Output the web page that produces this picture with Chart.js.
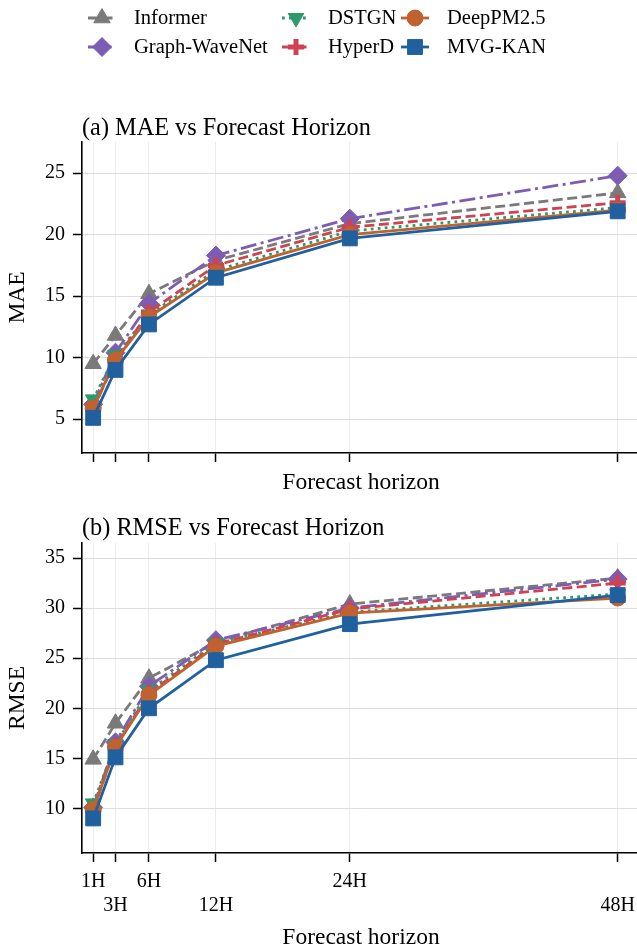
<!DOCTYPE html>
<html>
<head>
<meta charset="utf-8">
<script src="https://cdn.jsdelivr.net/npm/chart.js@4.4.1/dist/chart.umd.min.js"></script>
<style>
html, body { margin: 0; background: #fff; overflow: hidden; }
#wrap { position: relative; width: 637px; height: 945px; overflow: hidden; }
canvas { position: absolute; left: 0; }
</style>
</head>
<body>
<div id="wrap">
  <canvas id="maeChart" width="640" height="495" style="top:0px"></canvas>
  <canvas id="rmseChart" width="640" height="455" style="top:495px"></canvas>
</div>
<script>
// forecast horizons (hours) and tick labels
let horizons = [1, 3, 6, 12, 24, 48];
let xTickLabels = ['1H', '3H', '6H', '12H', '24H', '48H'];
let models = ['Informer', 'Graph-WaveNet', 'DSTGN', 'HyperD', 'DeepPM2.5', 'MVG-KAN'];

// MAE per model, same order as models
let maeInformer = [9.5, 11.8, 15.2, 17.9, 20.9, 23.4];
let maeGraphWaveNet = [6.2, 10.4, 14.4, 18.3, 21.3, 24.8];
let maeDSTGN = [6.6, 10.2, 13.5, 17.1, 20.3, 22.2];
let maeHyperD = [5.8, 9.8, 13.7, 17.5, 20.6, 22.6];
let maeDeepPM = [5.9, 9.8, 13.3, 16.9, 20.0, 22.0];
let maeMVGKAN = [5.1, 9.0, 12.7, 16.5, 19.7, 21.9];

// RMSE per model
let rmseInformer = [14.9, 18.5, 23.0, 26.6, 30.4, 33.0];
let rmseGraphWaveNet = [10.1, 16.6, 22.2, 26.8, 30.0, 32.9];
let rmseDSTGN = [10.5, 16.4, 21.8, 26.5, 29.6, 31.4];
let rmseHyperD = [9.8, 16.2, 21.5, 26.4, 29.9, 32.5];
let rmseDeepPM = [9.9, 16.1, 21.3, 26.2, 29.5, 31.0];
let rmseMVGKAN = [9.0, 15.1, 20.0, 24.8, 28.4, 31.3];

let maeTicks = [5, 10, 15, 20, 25];
let rmseTicks = [10, 15, 20, 25, 30, 35];

const FONT = '"Liberation Serif", "Times New Roman", serif';

// line / marker look of each model
let styles = [
  {color: '#7a7a7a', dash: [10, 4.5], point: 'triangle', radius: 9.5, rotation: 0, pbw: 1},
  {color: '#7d5db4', dash: [16, 4.5, 3, 4.5], point: 'rectRot', radius: 9.5, rotation: 0, pbw: 1},
  {color: '#2e9a6c', dash: [2.8, 4.2], point: 'triangle', radius: 9, rotation: 180, pbw: 1},
  {color: '#cf4251', dash: [10, 4.5], point: 'cross', radius: 8, rotation: 0, pbw: 5},
  {color: '#bf6230', dash: [], point: 'circle', radius: 8, rotation: 0, pbw: 1},
  {color: '#21609f', dash: [], point: 'rect', radius: 10.5, rotation: 0, pbw: 1}
];

function makeDatasets(values) {
  let sets = [];
  for (let i = 0; i < models.length; i++) {
    let st = styles[i];
    sets.push({
      label: models[i],
      data: horizons.map((h, j) => ({x: h, y: values[i][j]})),
      borderColor: st.color,
      backgroundColor: st.color,
      borderWidth: 2.8,
      borderDash: st.dash,
      borderCapStyle: 'butt',
      tension: 0,
      fill: false,
      pointStyle: st.point,
      pointRadius: st.radius,
      pointRotation: st.rotation,
      pointBorderWidth: st.pbw,
      pointBorderColor: st.color,
      pointBackgroundColor: st.color,
      order: models.length - i   // last model drawn on top
    });
  }
  return sets;
}

function makeScales(yTitle, yMin, yMax, yTicks, showXLabels) {
  return {
    x: {
      type: 'linear',
      min: 0,
      max: 50,
      afterBuildTicks: axis => { axis.ticks = horizons.map(v => ({value: v})); },
      afterFit: axis => { axis.paddingLeft = 0; axis.paddingRight = 0; },
      grid: {color: '#ececec', lineWidth: 1, tickColor: '#000', tickLength: 9, tickWidth: 1.5},
      border: {display: true, color: '#000', width: 1.6},
      ticks: {
        display: showXLabels,
        autoSkip: false,
        maxRotation: 0,
        padding: 8,
        color: '#000',
        font: {family: FONT, size: 20, lineHeight: 1.2},
        callback: v => {
          let i = horizons.indexOf(v);
          if (i < 0) return '';
          return i % 2 == 1 ? ['', xTickLabels[i]] : xTickLabels[i];
        }
      },
      title: {
        display: true,
        text: 'Forecast horizon',
        color: '#000',
        font: {family: FONT, size: 23.5, lineHeight: 1},
        padding: showXLabels ? {top: 0.25, bottom: 0.25} : {top: 9.25, bottom: 0.25}
      }
    },
    y: {
      type: 'linear',
      min: yMin,
      max: yMax,
      afterBuildTicks: axis => { axis.ticks = yTicks.map(v => ({value: v})); },
      grid: {color: '#dddddd', lineWidth: 1, tickColor: '#000', tickLength: 9, tickWidth: 1.5},
      border: {display: true, color: '#000', width: 1.6},
      ticks: {padding: 8, color: '#000', font: {family: FONT, size: 20}},
      title: {
        display: true,
        text: yTitle,
        color: '#000',
        font: {family: FONT, size: 23.5},
        padding: {top: 3.9, bottom: 4.9}
      }
    }
  };
}

// shared legend, 3 columns x 2 rows, drawn above the first chart
const legendPlugin = {
  id: 'topLegend',
  afterDraw(chart) {
    let ctx = chart.ctx;
    let colX = [88, 282, 401];
    let rowY = [18, 47];
    for (let i = 0; i < models.length; i++) {
      let st = styles[i];
      let x0 = colX[Math.floor(i / 2)];
      let y = rowY[i % 2];
      ctx.save();
      ctx.strokeStyle = st.color;
      ctx.lineWidth = 2.8;
      ctx.lineCap = 'butt';
      ctx.setLineDash(st.dash);
      ctx.beginPath();
      ctx.moveTo(x0, y);
      ctx.lineTo(x0 + 28, y);
      ctx.stroke();
      ctx.restore();
      ctx.save();
      ctx.fillStyle = st.color;
      ctx.strokeStyle = st.color;
      ctx.lineWidth = st.pbw;
      Chart.helpers.drawPoint(ctx, {pointStyle: st.point, radius: st.radius, rotation: st.rotation, borderWidth: st.pbw}, x0 + 14, y);
      ctx.restore();
      ctx.save();
      ctx.fillStyle = '#000';
      ctx.font = '20.5px ' + FONT;
      ctx.textBaseline = 'middle';
      ctx.fillText(models[i], x0 + 46, y + 1);
      ctx.restore();
    }
  }
};

function makeChart(id, values, titleText, yTitle, yMin, yMax, yTicks, showXLabels, padTop, titlePadBottom, plugins) {
  return new Chart(document.getElementById(id).getContext('2d'), {
    type: 'line',
    data: {datasets: makeDatasets(values)},
    options: {
      responsive: false,
      animation: false,
      devicePixelRatio: 1,
      layout: {autoPadding: false, padding: {top: padTop, left: 0, right: 0, bottom: 0}},
      plugins: {
        legend: {display: false},
        tooltip: {enabled: false},
        title: {
          display: true,
          text: titleText,
          align: 'start',
          fullSize: false,
          color: '#000',
          font: {family: FONT, size: 24.3, weight: 'normal', lineHeight: 1},
          padding: {top: 0, bottom: titlePadBottom}
        }
      },
      scales: makeScales(yTitle, yMin, yMax, yTicks, showXLabels)
    },
    plugins: plugins
  });
}

makeChart('maeChart',
  [maeInformer, maeGraphWaveNet, maeDSTGN, maeHyperD, maeDeepPM, maeMVGKAN],
  '(a) MAE vs Forecast Horizon', 'MAE', 2.24, 27.54, maeTicks, false, 116.85, 0.85, [legendPlugin]);

makeChart('rmseChart',
  [rmseInformer, rmseGraphWaveNet, rmseDSTGN, rmseHyperD, rmseDeepPM, rmseMVGKAN],
  '(b) RMSE vs Forecast Horizon', 'RMSE', 5.55, 36.5, rmseTicks, true, 21.85, 1.85, []);
</script>
</body>
</html>
